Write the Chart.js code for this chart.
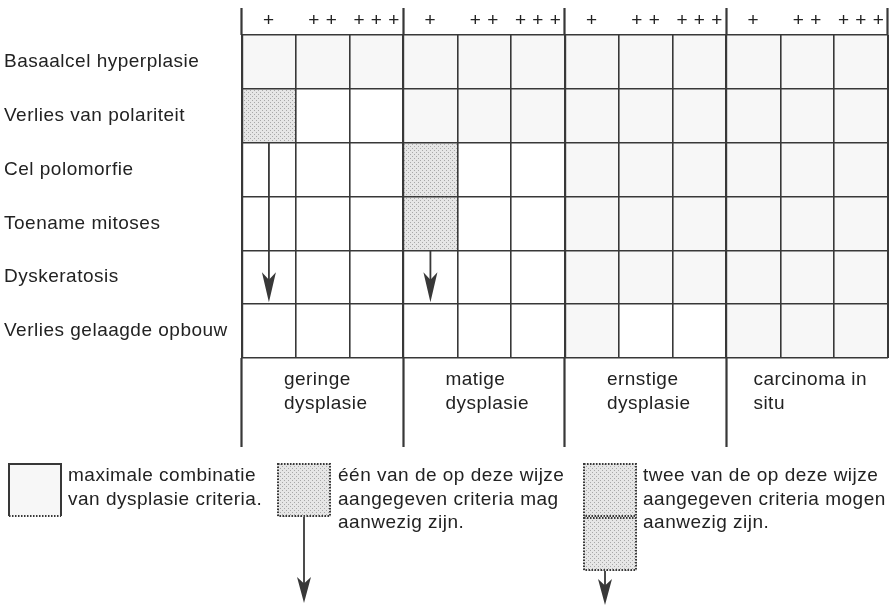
<!DOCTYPE html>
<html>
<head>
<meta charset="utf-8">
<script src="https://cdn.jsdelivr.net/npm/chart.js@4"></script>
<style>
  html, body { margin: 0; padding: 0; background: #fff; }
  canvas { display: block; }
</style>
</head>
<body>
<canvas id="chart" width="889" height="613"></canvas>
<script>
// criteria (rows), grades per stage (columns), stages
const rows = ['Basaalcel hyperplasie', 'Verlies van polariteit', 'Cel polomorfie', 'Toename mitoses', 'Dyskeratosis', 'Verlies gelaagde opbouw'];
const grades = ['+', '++', '+++'];
const stages = [['geringe', 'dysplasie'], ['matige', 'dysplasie'], ['ernstige', 'dysplasie'], ['carcinoma in', 'situ']];

// cell kind per row and grade: 0 = empty, 1 = maximale combinatie, 2 = één/twee van deze criteria
const geringe   = [[1, 1, 1], [2, 0, 0], [0, 0, 0], [0, 0, 0], [0, 0, 0], [0, 0, 0]];
const matige    = [[1, 1, 1], [1, 1, 1], [2, 0, 0], [2, 0, 0], [0, 0, 0], [0, 0, 0]];
const ernstige  = [[1, 1, 1], [1, 1, 1], [1, 1, 1], [1, 1, 1], [1, 1, 1], [1, 0, 0]];
const carcinoma = [[1, 1, 1], [1, 1, 1], [1, 1, 1], [1, 1, 1], [1, 1, 1], [1, 1, 1]];

// arrows in the grid: column, row where it starts (top edge), row where it ends (bottom edge)
const arrows = [{ col: 0, fromRow: 2, toRow: 4 }, { col: 3, fromRow: 4, toRow: 4 }];

const legendItems = [
    { lines: ['maximale combinatie', 'van dysplasie criteria.'], kind: 1, boxes: 1, arrow: false },
    { lines: ['één van de op deze wijze', 'aangegeven criteria mag', 'aanwezig zijn.'], kind: 2, boxes: 1, arrow: true },
    { lines: ['twee van de op deze wijze', 'aangegeven criteria mogen', 'aanwezig zijn.'], kind: 2, boxes: 2, arrow: true }
];

const LINE = '#383838';
const TEXT = '#222222';
const FONT = '"Liberation Sans", Arial, sans-serif';
const SPACING = '0.5px';

// stippled fill
function makeStipple() {
    const c = document.createElement('canvas');
    c.width = 4; c.height = 4;
    const g = c.getContext('2d');
    g.fillStyle = '#e6e6e6';
    g.fillRect(0, 0, 4, 4);
    g.fillStyle = '#a8a8a8';
    g.fillRect(0, 0, 1, 1);
    g.fillRect(2, 2, 1, 1);
    return g.createPattern(c, 'repeat');
}
const fills = ['#ffffff', '#f7f7f7', makeStipple()];

const stageCells = [geringe, matige, ernstige, carcinoma];
const datasets = [];
stageCells.forEach((cells, s) => {
    grades.forEach((grade, k) => {
        const c = s * grades.length + k;
        datasets.push({
            label: stages[s][0] + ' ' + grade,
            data: rows.map(() => [c, c + 1]),
            backgroundColor: cells.map(r => fills[r[k]]),
            borderWidth: 0,
            grouped: false,
            barPercentage: 1,
            categoryPercentage: 1
        });
    });
});
const nCols = stages.length * grades.length;

function drawArrow(ctx, x, y0, tip, head) {
    ctx.beginPath();
    ctx.moveTo(x, y0);
    ctx.lineTo(x, tip - head * 0.6);
    ctx.stroke();
    ctx.beginPath();
    ctx.moveTo(x, tip);
    ctx.lineTo(x - 7, tip - head);
    ctx.lineTo(x, tip - head * 0.75);
    ctx.lineTo(x + 7, tip - head);
    ctx.closePath();
    ctx.fill();
}

const spacingPlugin = {
    id: 'spacing',
    beforeDraw(chart) { chart.ctx.letterSpacing = SPACING; }
};

const extrasPlugin = {
    id: 'extras',
    afterDraw(chart) {
        const { ctx, chartArea, scales: { x, y } } = chart;
        const top = chartArea.top, bottom = chartArea.bottom;
        ctx.save();
        ctx.letterSpacing = SPACING;
        ctx.strokeStyle = LINE;
        ctx.fillStyle = LINE;

        // stage separators continue into header and label rows
        ctx.lineWidth = 2.2;
        for (let s = 0; s <= stages.length; s++) {
            const px = Math.round(x.getPixelForValue(s * grades.length)) - 0.5;
            ctx.beginPath();
            ctx.moveTo(px, 8);
            ctx.lineTo(px, top);
            if (s < stages.length) {
                ctx.moveTo(px, bottom);
                ctx.lineTo(px, 447);
            }
            ctx.stroke();
        }

        // arrows inside the grid
        ctx.lineWidth = 1.8;
        const half = (y.getPixelForValue(1) - y.getPixelForValue(0)) / 2;
        arrows.forEach(a => {
            const px = x.getPixelForValue(a.col + 0.5);
            drawArrow(ctx, px, y.getPixelForValue(a.fromRow) - half, y.getPixelForValue(a.toRow) + half - 2, 30);
        });

        // stage labels
        ctx.fillStyle = TEXT;
        ctx.font = '19px ' + FONT;
        ctx.textBaseline = 'middle';
        stages.forEach((lines, s) => {
            const cx = (x.getPixelForValue(s * 3) + x.getPixelForValue(s * 3 + 3)) / 2;
            const w = Math.max(...lines.map(t => ctx.measureText(t).width));
            lines.forEach((t, i) => ctx.fillText(t, cx - w / 2 + 3, bottom + 22 + i * 24));
        });

        // legend
        const box = 54, ly = 463;
        const boxX = [8, 277, 583], textX = [68, 338, 643];
        legendItems.forEach((item, i) => {
            const bx = boxX[i];
            for (let b = 0; b < item.boxes; b++) {
                const by = ly + b * box;
                ctx.fillStyle = fills[item.kind];
                ctx.fillRect(bx, by, box, box);
                ctx.strokeStyle = LINE;
                ctx.lineWidth = 2;
                if (item.kind === 2) {
                    ctx.setLineDash([1.5, 1.5]);
                    ctx.strokeRect(bx + 1, by + 1, box - 2, box - 2);
                } else {
                    // solid on three sides, dotted along the bottom
                    ctx.beginPath();
                    ctx.moveTo(bx + 1, by + box - 1);
                    ctx.lineTo(bx + 1, by + 1);
                    ctx.lineTo(bx + box - 1, by + 1);
                    ctx.lineTo(bx + box - 1, by + box - 1);
                    ctx.stroke();
                    ctx.setLineDash([1.5, 1.5]);
                    ctx.beginPath();
                    ctx.moveTo(bx + 1, by + box - 1);
                    ctx.lineTo(bx + box - 1, by + box - 1);
                    ctx.stroke();
                }
                ctx.setLineDash([]);
            }
            ctx.fillStyle = TEXT;
            item.lines.forEach((t, j) => ctx.fillText(t, textX[i], 476 + j * 23.5));
            if (item.arrow) {
                ctx.fillStyle = LINE;
                ctx.lineWidth = 1.8;
                const ax = bx + box / 2 + (item.boxes === 2 ? -5 : 0);
                drawArrow(ctx, ax, ly + item.boxes * box, item.boxes === 2 ? 605 : 603, 26);
            }
        });
        ctx.restore();
    }
};

new Chart(document.getElementById('chart'), {
    type: 'bar',
    data: { labels: rows, datasets: datasets },
    options: {
        indexAxis: 'y',
        responsive: false,
        animation: false,
        devicePixelRatio: 1,
        layout: { padding: { left: 4, right: 1, top: 0, bottom: 255 } },
        plugins: { legend: { display: false }, tooltip: { enabled: false } },
        scales: {
            y: {
                type: 'category',
                offset: true,
                grid: { offset: true, color: LINE, lineWidth: 1.6, drawTicks: false, z: 1 },
                border: { display: false },
                ticks: { crossAlign: 'far', color: TEXT, padding: 0, font: { family: FONT, size: 19 } },
                afterFit: s => { s.width = 238; }
            },
            x: {
                type: 'linear',
                position: 'bottom',
                min: 0,
                max: nCols,
                ticks: { stepSize: 1, display: false },
                grid: { color: LINE, lineWidth: c => (c.tick.value % grades.length === 0 ? 2.2 : 1.6), drawTicks: false, z: 1 },
                border: { display: false },
                afterFit: s => { s.height = 0; }
            },
            xTop: {
                type: 'category',
                position: 'top',
                labels: stages.flatMap(() => grades),
                offset: true,
                grid: { display: false },
                border: { display: false },
                ticks: {
                    color: TEXT,
                    padding: -5,
                    maxRotation: 0,
                    autoSkip: false,
                    font: { family: FONT, size: 19 },
                    callback: function (v) { return this.getLabelForValue(v).split('').join(' '); }
                },
                afterFit: s => { s.height = 35; }
            }
        }
    },
    plugins: [spacingPlugin, extrasPlugin]
});
</script>
</body>
</html>
